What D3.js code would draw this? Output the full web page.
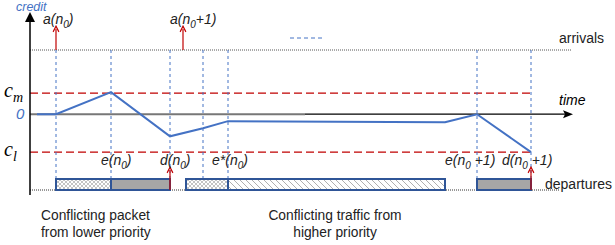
<!DOCTYPE html>
<html>
<head>
<meta charset="utf-8">
<script src="https://cdn.jsdelivr.net/npm/d3@7"></script>
<style>
  body { margin: 0; background: #fff; }
  svg { display: block; font-family: "Liberation Sans", Arial, sans-serif; }
</style>
</head>
<body>
<svg id="chart" width="615" height="245"></svg>
<script>
// time is in arbitrary units from the credit axis, credit in units of c_m
const dashedTimes = [26, 81, 140, 173, 198, 447, 501]

const creditT = [7, 26, 81, 140, 173, 198, 415, 447, 501]
const creditV = [0, 0, 1.05, -1.05, -0.67, -0.33, -0.38, 0, -1.8]

const levelNames = ["cm", "cl"]
const levelValues = [1, -1.8]

// transmissions on the departures row: [start, end, kind]
const barStart = [26, 81, 156, 198, 447]
const barEnd = [81, 140, 198, 415, 501]
const barKind = ["cross", "gray", "cross", "hatch", "gray"]

const arrivalLabels = [{t: 26, main: "a(n", sub: "0", tail: ")"}, {t: 153, main: "a(n", sub: "0", tail: "+1)"}]
const departureLabels = [
  {t: 81, main: "e(n", sub: "0", tail: ")", dx: -10},
  {t: 140, main: "d(n", sub: "0", tail: ")", dx: -10},
  {t: 198, main: "e*(n", sub: "0", tail: ")", dx: -16},
  {t: 447, main: "e(n", sub: "0", tail: " +1)", dx: -32},
  {t: 501, main: "d(n", sub: "0", tail: " +1)", dx: -29}
]
const arrivalArrows = [26, 153]
const departureArrows = [140, 501]

const svg = d3.select('#chart')
const x = d3.scaleLinear().domain([0, 540]).range([30, 570])
const y = d3.scaleLinear().domain([-3.6, 3.05]).range([190, 50])

const blue = '#4472c4', red = '#c00000', navy = '#2f5597'

const defs = svg.append('defs')
const cross = defs.append('pattern').attr('id', 'cross')
  .attr('patternUnits', 'userSpaceOnUse').attr('width', 4).attr('height', 4)
cross.append('rect').attr('width', 4).attr('height', 4).attr('fill', '#fff')
cross.append('path').attr('d', 'M0,0L4,4M4,0L0,4').attr('stroke', '#b5b5b5').attr('stroke-width', 0.8)

const hatch = defs.append('pattern').attr('id', 'hatch')
  .attr('patternUnits', 'userSpaceOnUse').attr('width', 6).attr('height', 6)
hatch.append('rect').attr('width', 6).attr('height', 6).attr('fill', '#fff')
hatch.append('path').attr('d', 'M-1,-1L7,7M-1,5L1,7M5,-1L7,1').attr('stroke', '#b0b0b0').attr('stroke-width', 1)

defs.append('marker').attr('id', 'redhead').attr('viewBox', '0 0 10 10')
  .attr('refX', 5).attr('refY', 5).attr('markerWidth', 6).attr('markerHeight', 6).attr('orient', 'auto')
  .append('path').attr('d', 'M1,1L9,5L1,9').attr('fill', 'none').attr('stroke', red).attr('stroke-width', 1.6)

// arrivals / departures rows
const rowArr = y(3.05), rowDep = y(-3.6)
svg.append('line').attr('x1', x(0)).attr('x2', x(542)).attr('y1', rowArr).attr('y2', rowArr)
  .attr('stroke', '#555').attr('stroke-width', 1).attr('stroke-dasharray', '1,1')
svg.append('line').attr('x1', x(0)).attr('x2', x(530)).attr('y1', rowDep).attr('y2', rowDep)
  .attr('stroke', '#333').attr('stroke-width', 1).attr('stroke-dasharray', '1,1')
svg.append('text').attr('x', 559).attr('y', 43).attr('font-size', 14).attr('fill', '#222').text('arrivals')
svg.append('text').attr('x', 545).attr('y', 189).attr('font-size', 14).attr('fill', '#222').text('departures')

// stray legend dash
svg.append('line').attr('x1', 290).attr('x2', 323).attr('y1', 38).attr('y2', 38)
  .attr('stroke', blue).attr('stroke-dasharray', '4,3')

// credit levels
svg.selectAll('line.level').data(levelValues).join('line').attr('class', 'level')
  .attr('x1', x(0)).attr('x2', x(501)).attr('y1', d => y(d)).attr('y2', d => y(d))
  .attr('stroke', red).attr('stroke-width', 1.2).attr('stroke-dasharray', '8,4')

// event guides
svg.selectAll('line.guide').data(dashedTimes).join('line').attr('class', 'guide')
  .attr('x1', d => x(d)).attr('x2', d => x(d)).attr('y1', rowArr).attr('y2', rowDep)
  .attr('stroke', blue).attr('stroke-width', 1).attr('stroke-dasharray', '3,3')

// time axis
svg.append('line').attr('x1', x(0)).attr('x2', x(275)).attr('y1', y(0)).attr('y2', y(0))
  .attr('stroke', '#777').attr('stroke-width', 2)
svg.append('line').attr('x1', x(275)).attr('x2', x(535)).attr('y1', y(0)).attr('y2', y(0))
  .attr('stroke', '#000').attr('stroke-width', 1.3)
svg.append('path').attr('d', `M${x(533)},${y(0) - 4}L${x(543)},${y(0)}L${x(533)},${y(0) + 4}L${x(535)},${y(0)}Z`)
  .attr('fill', '#000')
svg.append('text').attr('x', 559).attr('y', 105).attr('font-size', 14).attr('font-style', 'italic').text('time')

// credit axis
svg.append('line').attr('x1', x(0)).attr('x2', x(0)).attr('y1', 20).attr('y2', 195)
  .attr('stroke', '#000').attr('stroke-width', 1.5)
svg.append('path').attr('d', `M${x(0) - 5},22L${x(0)},12L${x(0) + 5},22Z`).attr('fill', '#000')
svg.append('text').attr('x', 16).attr('y', 11).attr('font-size', 12.5).attr('font-style', 'italic')
  .attr('fill', blue).text('credit')
svg.append('text').attr('x', 16).attr('y', y(0) + 5).attr('font-size', 15).attr('font-style', 'italic')
  .attr('fill', blue).text('0')

const levelText = svg.selectAll('text.lvl').data(levelNames).join('text').attr('class', 'lvl')
  .attr('x', 4).attr('y', (d, i) => y(levelValues[i]) + 4)
  .attr('font-family', '"Liberation Serif", serif').attr('font-style', 'italic').attr('font-size', 20)
levelText.append('tspan').text('c')
levelText.append('tspan').attr('dy', 5).attr('font-size', 14).text(d => d.slice(1))

// credit curve
svg.append('path').datum(d3.zip(creditT, creditV))
  .attr('d', d3.line().x(d => x(d[0])).y(d => y(d[1])))
  .attr('fill', 'none').attr('stroke', blue).attr('stroke-width', 2)

// departures bars
const barH = 11
svg.selectAll('rect.bar').data(d3.range(barStart.length)).join('rect').attr('class', 'bar')
  .attr('x', i => x(barStart[i])).attr('width', i => x(barEnd[i]) - x(barStart[i]))
  .attr('y', rowDep - barH).attr('height', barH)
  .attr('fill', i => barKind[i] === 'gray' ? '#a6a6a6' : `url(#${barKind[i]})`)
  .attr('stroke', navy).attr('stroke-width', 2)

// arrows
svg.selectAll('line.aarr').data(arrivalArrows).join('line').attr('class', 'aarr')
  .attr('x1', d => x(d)).attr('x2', d => x(d)).attr('y1', rowArr).attr('y2', 29)
  .attr('stroke', red).attr('stroke-width', 1.2).attr('marker-end', 'url(#redhead)')
svg.selectAll('line.darr').data(departureArrows).join('line').attr('class', 'darr')
  .attr('x1', d => x(d)).attr('x2', d => x(d)).attr('y1', rowDep).attr('y2', 170)
  .attr('stroke', red).attr('stroke-width', 1.2).attr('marker-end', 'url(#redhead)')

// event labels
function subLabel(sel, yPos, dxDefault) {
  const t = sel.append('text').attr('x', d => x(d.t) + (d.dx ?? dxDefault)).attr('y', yPos)
    .attr('font-size', 14).attr('font-style', 'italic').attr('fill', '#222')
  t.append('tspan').text(d => d.main)
  t.append('tspan').attr('dy', 4).attr('font-size', 10).text(d => d.sub)
  t.append('tspan').attr('dy', -4).text(d => d.tail)
}
subLabel(svg.append('g').selectAll('g').data(arrivalLabels).join('g'), 24, -13)
subLabel(svg.append('g').selectAll('g').data(departureLabels).join('g'), 165, -10)

// captions
const cap1 = svg.append('text').attr('x', 41).attr('y', 220).attr('font-size', 13.8).attr('fill', '#222')
cap1.append('tspan').attr('x', 41).text('Conflicting packet')
cap1.append('tspan').attr('x', 41).attr('dy', 17).text('from lower priority')
const cap2 = svg.append('text').attr('x', 335).attr('y', 220).attr('font-size', 13.8).attr('fill', '#222')
  .attr('text-anchor', 'middle')
cap2.append('tspan').attr('x', 335).text('Conflicting traffic from')
cap2.append('tspan').attr('x', 335).attr('dy', 17).text('higher priority')
</script>
</body>
</html>
